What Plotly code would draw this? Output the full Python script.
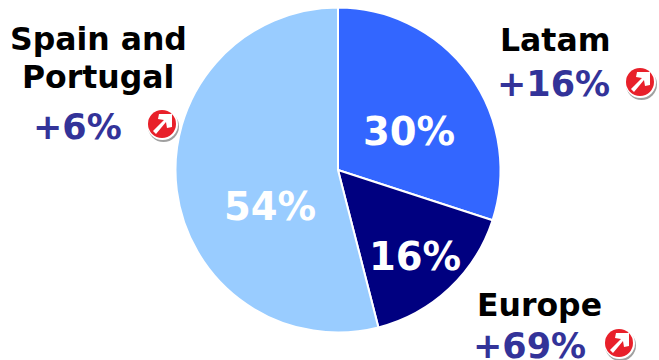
import plotly.graph_objects as go

W, H = 659, 360

regions = ["Latam", "Europe", "Spain and Portugal"]
shares = [30, 16, 54]
slice_colors = ["#3366FF", "#000080", "#99CCFF"]
growth_labels = ["+16%", "+69%", "+6%"]
share_label_spots = [(409, 131), (415, 256), (270, 207)]

FONT = "DejaVu Sans"
INK = "#000000"
GROWTH_INK = "#333399"

def px_x(x):
    return x / W

def px_y(y):
    return 1 - y / H

fig = go.Figure(go.Pie(
    labels=regions,
    values=shares,
    sort=False,
    direction="clockwise",
    rotation=0,
    marker=dict(colors=slice_colors, line=dict(color="#FFFFFF", width=2)),
    textinfo="none",
    hoverinfo="label+percent",
    domain=dict(x=[px_x(175.5), px_x(500.5)], y=[px_y(332.5), px_y(7.5)]),
    showlegend=False,
))

def note(x, y, text, color, size=31.5):
    return dict(
        x=px_x(x), y=px_y(y), xref="paper", yref="paper",
        text=f"<b>{text}</b>", showarrow=False, xanchor="center", yanchor="middle",
        font=dict(family=FONT, size=size, color=color),
    )

annotations = [
    note(98, 39, "Spain and", INK),
    note(98, 77, "Portugal", INK),
    note(77, 127, growth_labels[2], GROWTH_INK, 35),
    note(555, 40, regions[0], INK),
    note(553, 84, growth_labels[0], GROWTH_INK, 35),
    note(539, 305, regions[1], INK),
    note(529, 346, growth_labels[1], GROWTH_INK, 35),
]
# Slice shares printed in white on top of the pie
for (x, y), value in zip(share_label_spots, shares):
    annotations.append(note(x, y, f"{value}%", "#FFFFFF", 38.5))

# Red round badge with a white up-right arrow beside each growth figure
def badge(cx, cy):
    r = 14.5
    def circle(dx, dy, rad, fill):
        return dict(type="circle", xref="paper", yref="paper",
                    x0=px_x(cx + dx - rad), x1=px_x(cx + dx + rad),
                    y0=px_y(cy + dy + rad), y1=px_y(cy + dy - rad),
                    fillcolor=fill, line=dict(width=0))
    pts = [(-9, 7), (2, -4), (-4, -5), (-3, -10), (10, -10), (10, 3), (5, 4), (4, -2), (-6, 10)]
    path = "M " + " L ".join(f"{px_x(cx + a):.5f},{px_y(cy + b):.5f}" for a, b in pts) + " Z"
    arrow = dict(type="path", xref="paper", yref="paper", path=path,
                 fillcolor="#FFFFFF", line=dict(width=0))
    return [circle(1.5, 2.5, r + 1, "#A0A0A0"), circle(0.5, 0.5, r + 1, "#FFFFFF"),
            circle(0, 0, r - 0.5, "#E8202A"), arrow]

shapes = []
for c in [(162, 124), (640, 82), (619, 343)]:
    shapes += badge(*c)

fig.update_layout(
    width=W, height=H,
    margin=dict(l=0, r=0, t=0, b=0),
    paper_bgcolor="#FFFFFF",
    annotations=annotations,
    shapes=shapes,
)

fig.write_html("out.html", config=dict(displayModeBar=False))
